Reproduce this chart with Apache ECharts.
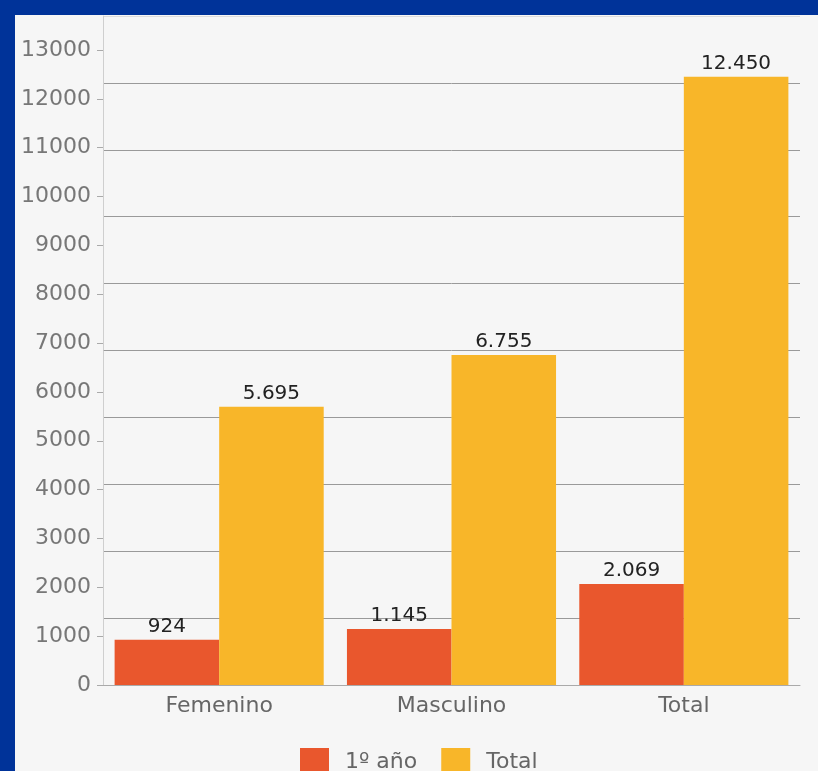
<!DOCTYPE html>
<html>
<head>
<meta charset="utf-8">
<script src="https://cdn.jsdelivr.net/npm/echarts@6/dist/echarts.min.js"></script>
<style>
  html, body { margin: 0; padding: 0; background: #003399; width: 818px; height: 771px; overflow: hidden; }
  #chart { position: absolute; left: 15px; top: 15px; width: 803px; height: 756px; background: #f6f6f6; }
</style>
</head>
<body>
<div id="chart"></div>
<script>
const categories = ['Femenino', 'Masculino', 'Total']
const primerAno = [924, 1145, 2069]
const total = [5695, 6755, 12450]
const yTicks = [0, 1000, 2000, 3000, 4000, 5000, 6000, 7000, 8000, 9000, 10000, 11000, 12000, 13000]
const yMax = 13695

const fmt = v => String(v).replace(/\B(?=(\d{3})+(?!\d))/g, '.')

const gridColors = []
for (let i = 0; i < 10; i++) gridColors.push('#9a9a9a')
gridColors.push('#dcdcdc')

const font = 'DejaVu Sans'

const chart = echarts.init(document.getElementById('chart'))
chart.setOption({
  animation: false,
  textStyle: { fontFamily: font },
  grid: { left: 88, right: 18, top: 1, bottom: 86, outerBoundsMode: 'none', containLabel: false },
  legend: {
    data: ['1º año', 'Total'],
    left: 280,
    top: 728,
    icon: 'rect',
    itemWidth: 29,
    itemHeight: 29,
    itemGap: 24,
    textStyle: { color: '#666', fontSize: 22, fontFamily: font, padding: [0, 0, 0, 11] }
  },
  xAxis: {
    type: 'category',
    data: categories,
    axisLine: { lineStyle: { color: '#aaa', width: 1 } },
    axisTick: { alignWithLabel: true, length: 6, lineStyle: { color: '#aaa' } },
    axisLabel: { color: '#666', fontSize: 22, fontFamily: font, margin: 10 }
  },
  yAxis: [
    {
      type: 'value',
      min: 0,
      max: yMax,
      axisLine: { show: true, lineStyle: { color: '#cfcfcf' } },
      axisTick: { show: true, length: 6, customValues: yTicks, lineStyle: { color: '#aaa' } },
      axisLabel: { color: '#777', fontSize: 22, fontFamily: font, margin: 12, customValues: yTicks, formatter: v => String(v) },
      splitLine: { show: false }
    },
    {
      type: 'value',
      min: 0,
      max: yMax,
      interval: yMax / 10,
      axisLine: { show: false },
      axisTick: { show: false },
      axisLabel: { show: false },
      splitLine: { show: true, lineStyle: { color: gridColors, width: 1 } }
    }
  ],
  series: [
    {
      name: '1º año',
      type: 'bar',
      data: primerAno,
      barGap: 0,
      barCategoryGap: '10%',
      itemStyle: { color: '#e9572d' },
      label: { show: true, position: 'top', distance: 3, color: '#222', fontSize: 20, fontFamily: font, formatter: p => fmt(p.value) }
    },
    {
      name: 'Total',
      type: 'bar',
      data: total,
      barGap: 0,
      barCategoryGap: '10%',
      itemStyle: { color: '#f8b629' },
      label: { show: true, position: 'top', distance: 3, color: '#222', fontSize: 20, fontFamily: font, formatter: p => fmt(p.value) }
    }
  ]
})
</script>
</body>
</html>
